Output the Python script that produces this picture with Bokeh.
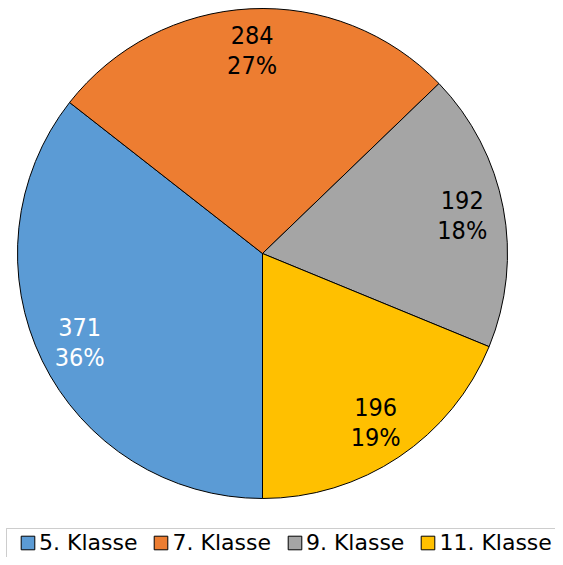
import math
from bokeh.plotting import figure
from bokeh.models import ColumnDataSource, Range1d, Legend, LegendItem, BoxAnnotation
from bokeh.core.properties import value
from bokeh.embed import file_html
from bokeh.resources import INLINE

# ---- data ----
categories = ["5. Klasse", "7. Klasse", "9. Klasse", "11. Klasse"]
counts = [371, 284, 192, 196]
colors = ["#5B9BD5", "#ED7D31", "#A5A5A5", "#FFC000"]
label_colors = ["white", "black", "black", "black"]

LABEL_FONT = "DejaVu Sans Condensed"
LEGEND_FONT = "DejaVu Sans"

total = sum(counts)
first_angle = 180.0  # degrees clockwise from 12 o'clock where the first slice starts
R = 245
LR = 0.83 * R

starts, ends, lx, ly, texts = [], [], [], [], []
acc = first_angle
for c in counts:
    sweep = 360.0 * c / total
    a, b = acc, acc + sweep
    starts.append(math.radians(90 - b))
    ends.append(math.radians(90 - a))
    mid = math.radians(90 - (a + b) / 2)
    lx.append(LR * math.cos(mid))
    ly.append(LR * math.sin(mid))
    texts.append(f"{c}\n{round(100 * c / total)}%")
    acc = b

src = ColumnDataSource(dict(cat=categories, count=counts, lx=lx, ly=ly,
                            txt=texts, tcol=label_colors))

W, H = 555, 557
CX, CY = 262, 253  # pie centre in canvas pixels
p = figure(width=W, height=H, output_backend="svg", toolbar_location=None,
           x_range=Range1d(-CX, W - CX), y_range=Range1d(CY - H, CY),
           min_border=0)
p.axis.visible = False
p.grid.visible = False
p.outline_line_color = None
p.background_fill_color = "white"
p.border_fill_color = "white"

renderers = []
for i in range(len(counts)):
    r = p.wedge(x=0, y=0, radius=R, start_angle=starts[i], end_angle=ends[i],
                direction="anticlock", fill_color=colors[i], line_color="black",
                line_width=1)
    renderers.append(r)

p.text(x="lx", y="ly", text="txt", source=src, text_color="tcol",
       text_font=value(LABEL_FONT), text_font_size="25px", text_align="center",
       text_baseline="middle", text_line_height=1.06)

# legend frame
frame = BoxAnnotation(left=6 - CX, right=400, top=CY - 528, bottom=-400,
                      fill_color="white", fill_alpha=1.0,
                      line_color="#595959", line_width=1)
p.add_layout(frame)

legend = Legend(items=[LegendItem(label=categories[i], renderers=[renderers[i]])
                       for i in range(len(counts))],
                orientation="horizontal", location=(19, 1),
                padding=5, spacing=15, label_standoff=3,
                glyph_width=17, glyph_height=17,
                label_text_font=LEGEND_FONT, label_text_font_size="22px",
                label_text_color="black", label_height=27,
                border_line_color=None, background_fill_alpha=0.0,
                margin=0)
p.add_layout(legend, "center")

open("out.html", "w").write(file_html(p, INLINE))
